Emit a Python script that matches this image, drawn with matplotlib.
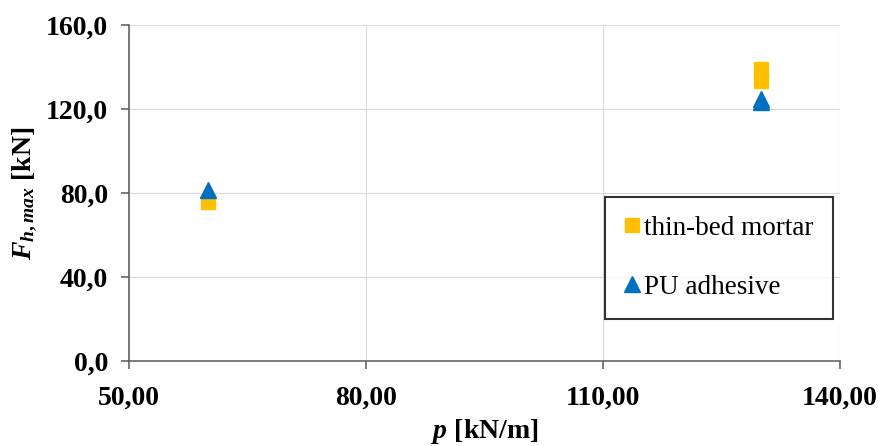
import matplotlib
matplotlib.use("Agg")
import matplotlib.pyplot as plt

# Data
mortar_p = [60.0, 130.0, 130.0]
mortar_F = [75.5, 133.5, 139.0]
pu_p = [60.0, 130.0, 130.0]
pu_F = [81.5, 123.5, 125.0]

x_ticks = [50, 80, 110, 140]
x_tick_labels = ["50,00", "80,00", "110,00", "140,00"]
y_ticks = [0, 40, 80, 120, 160]
y_tick_labels = ["0,0", "40,0", "80,0", "120,0", "160,0"]

plt.rcParams['font.family'] = ['Liberation Serif', 'DejaVu Serif']
plt.rcParams['mathtext.fontset'] = 'custom'
plt.rcParams['mathtext.it'] = 'Liberation Serif:italic:bold'
plt.rcParams['mathtext.rm'] = 'Liberation Serif:bold'
plt.rcParams['mathtext.bf'] = 'Liberation Serif:bold'

fig = plt.figure(figsize=(8.83, 4.46), dpi=100)
ax = fig.add_axes([129/883, 1-361/446, (840-129)/883, (361-25)/446])

ax.grid(True, color='#d9d9d9', linewidth=0.8, zorder=0)
ax.set_axisbelow(True)

ax.plot(mortar_p, mortar_F, linestyle='none', marker='s', markersize=10.5,
        color='#FFC000', label='thin-bed mortar', zorder=3)
ax.plot(pu_p, pu_F, linestyle='none', marker='^', markersize=11,
        color='#0070C0', label='PU adhesive', zorder=4)

ax.set_xlim(50, 140)
ax.set_ylim(0, 160)
ax.set_xticks(x_ticks)
ax.set_xticklabels(x_tick_labels, fontweight='bold', fontsize=20)
ax.set_yticks(y_ticks)
ax.set_yticklabels(y_tick_labels, fontweight='bold', fontsize=20)

for s in ['top', 'right']:
    ax.spines[s].set_visible(False)
for s in ['left', 'bottom']:
    ax.spines[s].set_color('#595959')
    ax.spines[s].set_linewidth(1.1)
ax.tick_params(axis='both', direction='out', length=6, width=1.1,
               color='#595959', labelcolor='black')
ax.tick_params(axis='x', pad=12)
ax.tick_params(axis='y', pad=9)

ax.set_xlabel('$p$ [kN/m]', fontweight='bold', fontsize=20, labelpad=4)
ax.set_ylabel('$F_{h,max}$ [kN]', fontweight='bold', fontsize=20, labelpad=5)

leg = ax.legend(loc='upper left', bbox_to_anchor=((605-129)/711, (361-197)/336),
                frameon=True, fancybox=False, fontsize=19.5, handlelength=0.6,
                handletextpad=0.15, labelspacing=1.25, borderpad=0.7,
                borderaxespad=0, markerscale=1.0)
leg.get_frame().set_edgecolor('black')
leg.get_frame().set_linewidth(1.5)

fig.savefig('out.png', dpi=100)
